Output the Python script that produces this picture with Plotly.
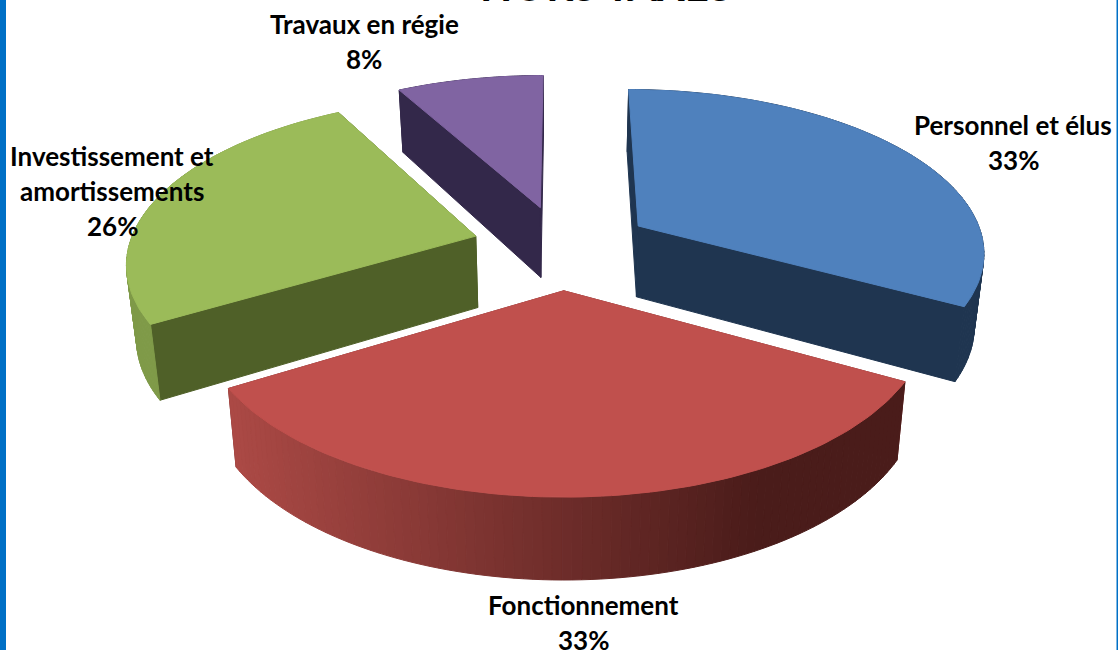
import math
import plotly.graph_objects as go

categories = ["Personnel et élus", "Fonctionnement", "Investissement et amortissements", "Travaux en régie"]
shares = [33.0, 33.4, 25.6, 8.0]
label_lines = [["Personnel et élus", "33%"], ["Fonctionnement", "33%"],
               ["Investissement et", "amortissements", "26%"], ["Travaux en régie", "8%"]]
title_text = "HORS TAXES"
label_anchor = [(1013, 124.5), (583, 604.5), (112, 155.5), (364, 23.5)]
top_colors = ["#4F81BD", "#C0504D", "#9BBB59", "#8064A2"]
face_colors = ["#1F3550", "#7A3230", "#4F6028", "#33284A"]
arc_colors = ["#1F3550", None, "#7F9A48", "#33284A"]

W, H = 1118, 650
CX, CY = 562, 247
RX, RY, P, EXPL = 347, 162, 0.146, 0.26
WALL, WALL_P, BOTTOM_SHRINK = 72, 0.12, 0.977
FONT = "Lato, Carlito, sans-serif"
LINE_GAP = 35


def top_pt(x, y):
    w = 1 / (1 + P * y)
    return CX + RX * x * w, CY - RY * y * w


def bottom_pt(x, y):
    sx, sy = top_pt(x, y)
    return CX + (sx - CX) * BOTTOM_SHRINK, sy + WALL * (1 - WALL_P * y)


def red_wall_color(sx):
    t = min(1.0, max(0.0, (sx - 230) / (760 - 230)))
    a, b = (172, 74, 70), (74, 28, 26)
    return "rgb(%d,%d,%d)" % tuple(a[i] + (b[i] - a[i]) * t for i in range(3))


fig = go.Figure()


def poly(points, color):
    xs = [p[0] for p in points] + [points[0][0]]
    ys = [p[1] for p in points] + [points[0][1]]
    fig.add_trace(go.Scatter(x=xs, y=ys, mode="lines", fill="toself", fillcolor=color,
                             line=dict(color=color, width=1), hoverinfo="skip", showlegend=False))


total = sum(shares)
start = 0.0
slices = []
for i, s in enumerate(shares):
    sweep = 2 * math.pi * s / total
    mid = start + sweep / 2
    slices.append((i, start, start + sweep, EXPL * math.sin(mid), EXPL * math.cos(mid)))
    start += sweep

# paint from back to front
for i, a0, a1, ox, oy in sorted(slices, key=lambda t: -t[4]):
    n = 90
    rim = [(ox + math.sin(a0 + (a1 - a0) * k / n), oy + math.cos(a0 + (a1 - a0) * k / n)) for k in range(n + 1)]
    apex = (ox, oy)
    pieces = []
    for k in range(n):
        p, q = rim[k], rim[k + 1]
        col = arc_colors[i] or red_wall_color((top_pt(*p)[0] + top_pt(*q)[0]) / 2)
        pieces.append(((p[1] + q[1]) / 2, [top_pt(*p), top_pt(*q), bottom_pt(*q), bottom_pt(*p)], col))
    for end in (rim[0], rim[-1]):
        pieces.append(((apex[1] + end[1]) / 2, [top_pt(*apex), top_pt(*end), bottom_pt(*end), bottom_pt(*apex)],
                       face_colors[i]))
    for _, pts, col in sorted(pieces, key=lambda t: -t[0]):
        poly(pts, col)
    poly([top_pt(*apex)] + [top_pt(*p) for p in rim], top_colors[i])

annotations = []
for lines, (ax, ay) in zip(label_lines, label_anchor):
    for j, line in enumerate(lines):
        annotations.append(dict(x=ax, y=ay + j * LINE_GAP, xref="x", yref="y", text="<b>%s</b>" % line,
                                showarrow=False, xanchor="center", yanchor="middle",
                                font=dict(family=FONT, size=26, color="#000000")))
annotations.append(dict(x=606, y=1 + 15 / H, xref="x", yref="paper", text="<b>%s</b>" % title_text, showarrow=False,
                        xanchor="center", yanchor="middle", font=dict(family=FONT, size=42, color="#000000")))

fig.update_layout(
    width=W, height=H, margin=dict(l=0, r=0, t=0, b=0),
    paper_bgcolor="white", plot_bgcolor="white", showlegend=False,
    xaxis=dict(range=[0, W], visible=False, fixedrange=True),
    yaxis=dict(range=[H, 0], visible=False, fixedrange=True),
    annotations=annotations,
    shapes=[
        dict(type="rect", xref="x", yref="y", x0=0, x1=6, y0=0, y1=H, fillcolor="#0070C6", line_width=0, layer="above"),
        dict(type="rect", xref="x", yref="y", x0=1116.5, x1=1118, y0=0, y1=H, fillcolor="#0070C6", line_width=0, layer="above"),
    ],
)
fig.write_html("out.html", config=dict(displayModeBar=False),
               post_script="document.body.style.margin='0';document.body.style.overflow='hidden';")
